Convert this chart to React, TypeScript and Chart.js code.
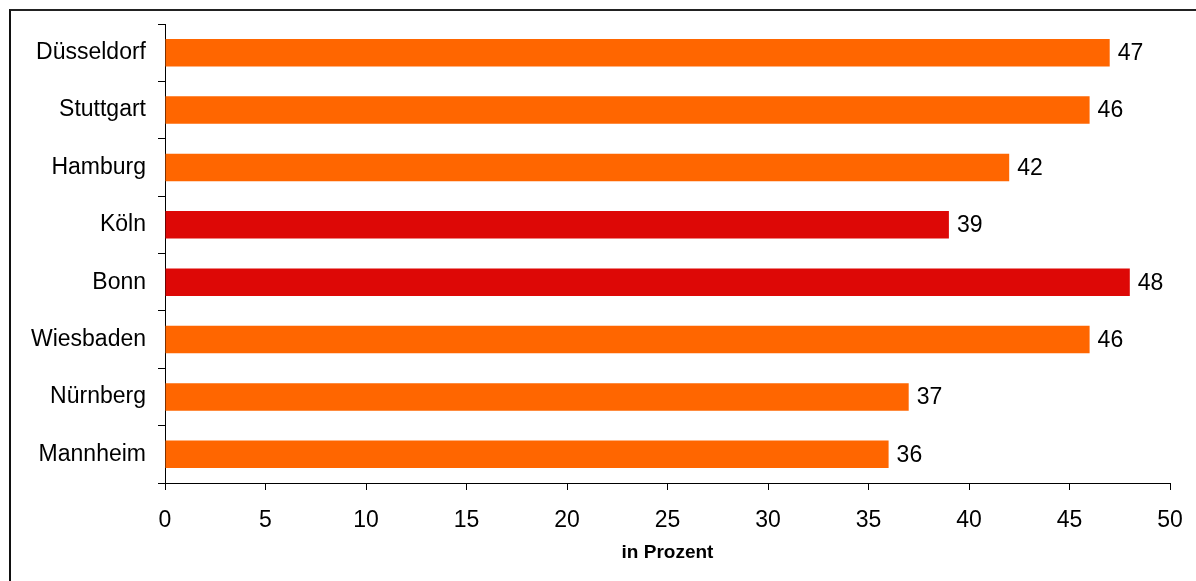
import React, { useEffect, useRef } from "react";
import { Chart, registerables } from "chart.js";

Chart.register(...registerables);

const cities = ["Düsseldorf", "Stuttgart", "Hamburg", "Köln", "Bonn", "Wiesbaden", "Nürnberg", "Mannheim"];
const shares = [47, 46, 42, 39, 48, 46, 37, 36];
const highlighted = [false, false, false, true, true, false, false, false];
const xTicks = [0, 5, 10, 15, 20, 25, 30, 35, 40, 45, 50];
const axisTitle = "in Prozent";

const ORANGE = "#FF6600";
const RED = "#DD0806";
const FONT = "'Liberation Sans', Arial, Helvetica, sans-serif";

// Writes each bar's value just past its end
const valueLabels = {
  id: "valueLabels",
  afterDatasetsDraw(chart: any) {
    const { ctx } = chart;
    const meta = chart.getDatasetMeta(0);
    ctx.save();
    ctx.font = `23px ${FONT}`;
    ctx.fillStyle = "#000";
    ctx.textAlign = "left";
    ctx.textBaseline = "middle";
    meta.data.forEach((bar: any, i: number) => {
      ctx.fillText(String(shares[i]), bar.x + 8, bar.y + 1);
    });
    ctx.restore();
  },
};

export default function App() {
  const canvasRef = useRef<HTMLCanvasElement>(null);

  useEffect(() => {
    const canvas = canvasRef.current;
    if (!canvas) return;
    const chart = new Chart(canvas, {
      type: "bar",
      data: {
        labels: cities,
        datasets: [
          {
            data: shares,
            backgroundColor: highlighted.map((h) => (h ? RED : ORANGE)),
            borderWidth: 0,
            categoryPercentage: 1,
            barPercentage: 0.48,
          },
        ],
      },
      options: {
        indexAxis: "y",
        responsive: false,
        animation: false,
        layout: { padding: { top: 24, right: 26, left: 0, bottom: 0 } },
        plugins: {
          legend: { display: false },
          tooltip: { enabled: false },
        },
        scales: {
          x: {
            type: "linear",
            min: 0,
            max: 50,
            afterBuildTicks: (scale: any) => {
              scale.ticks = xTicks.map((v) => ({ value: v }));
            },
            afterFit: (scale: any) => {
              scale.height = 98;
              scale.paddingLeft = 0;
              scale.paddingRight = 0;
            },
            grid: {
              drawOnChartArea: false,
              drawTicks: true,
              tickLength: 7,
              color: "#000",
            },
            border: { display: true, color: "#000", width: 1 },
            ticks: {
              color: "#000",
              font: { family: FONT, size: 23 },
              padding: 17,
              maxRotation: 0,
            },
            title: {
              display: true,
              text: axisTitle,
              color: "#000",
              font: { family: FONT, size: 19, weight: "bold" },
              padding: { top: 0, bottom: 17 },
            },
          },
          y: {
            type: "category",
            offset: true,
            afterFit: (scale: any) => {
              scale.width = 165;
              scale.paddingTop = 0;
              scale.paddingBottom = 0;
            },
            grid: {
              offset: true,
              drawOnChartArea: false,
              drawTicks: true,
              tickLength: 7,
              color: "#000",
            },
            border: { display: true, color: "#000", width: 1 },
            ticks: {
              color: "#000",
              font: { family: FONT, size: 23 },
              padding: 12,
            },
          },
        },
      },
      plugins: [valueLabels],
    });
    return () => chart.destroy();
  }, []);

  return (
    <div style={{ position: "fixed", left: 0, top: 0, width: 1196, height: 581, background: "#fff", overflow: "hidden" }}>
      <canvas ref={canvasRef} width={1196} height={581} style={{ position: "absolute", left: 0, top: 0 }} />
      <div
        style={{
          position: "absolute",
          left: 9,
          top: 9,
          width: 1300,
          height: 700,
          borderLeft: "2px solid #111",
          borderTop: "2px solid #222",
          pointerEvents: "none",
        }}
      />
    </div>
  );
}
